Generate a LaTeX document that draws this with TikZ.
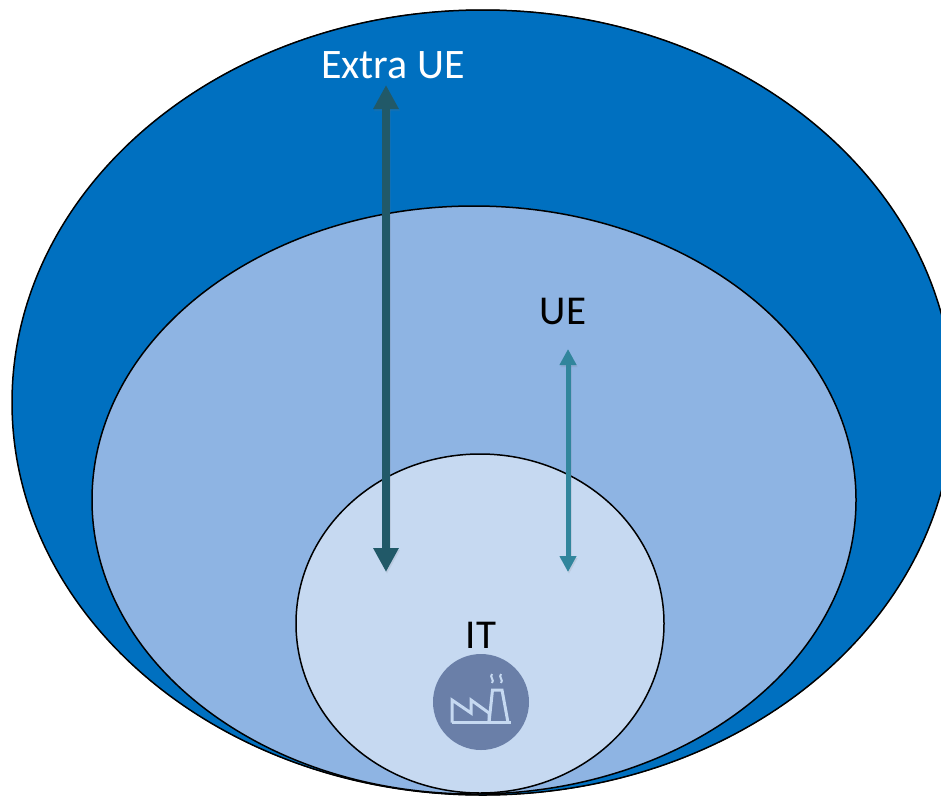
\documentclass[tikz,border=0pt]{standalone}
\usepackage{fontspec}
\setmainfont{Carlito}
\usetikzlibrary{arrows.meta}
\definecolor{outerblue}{HTML}{0070C0}
\definecolor{midblue}{HTML}{8EB4E3}
\definecolor{innerblue}{HTML}{C6D9F1}
\definecolor{darkteal}{HTML}{215968}
\definecolor{lightteal}{HTML}{31859C}
\definecolor{iconblue}{HTML}{6A7FA8}
\tikzset{
  x=1pt,y=-1pt,
  zone/.style={draw=black,line width=1.5pt},
  bigarrow/.style={draw=darkteal,line width=8pt,{Triangle[width=24pt,length=24pt]}-{Triangle[width=24pt,length=24pt]}},
  smallarrow/.style={draw=lightteal,line width=5pt,{Triangle[width=16pt,length=16pt]}-{Triangle[width=16pt,length=16pt]}},
  arrowshadow/.style={draw=black!55,opacity=0.14},
  lbl/.style={font=\fontsize{41}{41}\selectfont,inner sep=0pt,anchor=center},
  iconline/.style={draw=innerblue,line width=3pt,line join=miter},
  smoke/.style={draw=innerblue,line width=2pt}
}
\begin{document}
\begin{tikzpicture}
\useasboundingbox (0,0) rectangle (941,795);
\fill[white] (0,0) rectangle (941,795);
\begin{scope}
\clip (0,0) rectangle (941,795);
\fill[black] (482.7,402.5) ellipse [x radius=470.7,y radius=393];
\draw[zone,fill=outerblue] (482.7,402.5) ellipse [x radius=470.7,y radius=392.5];
\draw[zone,fill=midblue] (474,500) ellipse [x radius=382,y radius=294];
\draw[zone,fill=innerblue] (480,623.5) ellipse [x radius=184,y radius=169.5];
\end{scope}
\coordinate (bigtop) at (386,85);
\coordinate (bigbot) at (386,572);
\coordinate (smalltop) at (568,349);
\coordinate (smallbot) at (568,572);
\coordinate (bigtops) at (387,87);
\coordinate (bigbots) at (387,574);
\coordinate (smalltops) at (569,351);
\coordinate (smallbots) at (569,574);
\draw[bigarrow,arrowshadow] (bigtops) -- (bigbots);
\draw[smallarrow,arrowshadow] (smalltops) -- (smallbots);
\draw[bigarrow] (bigtop) -- (bigbot);
\draw[smallarrow] (smalltop) -- (smallbot);
\node[lbl,text=white,font=\fontsize{42}{42}\selectfont] (extra) at (393,65) {Extra UE};
\node[lbl] (ue) at (563,311) {UE};
\node[lbl] (it) at (481,635) {IT};
\fill[iconblue] (481,702) circle (48);
\draw[iconline] (452,722.5) -- (452,700) -- (471,713) -- (471,700) -- (489,713) -- (489,722.5);
\draw[iconline] (452,722.5) -- (510.5,722.5);
\draw[iconline] (489,722.5) -- (492.5,690) -- (502,690) -- (508,722.5);
\draw[smoke] (492,674) .. controls (489,677) and (495,680) .. (492,683);
\draw[smoke] (501,674) .. controls (498,677) and (504,680) .. (501,683);
\end{tikzpicture}
\end{document}
